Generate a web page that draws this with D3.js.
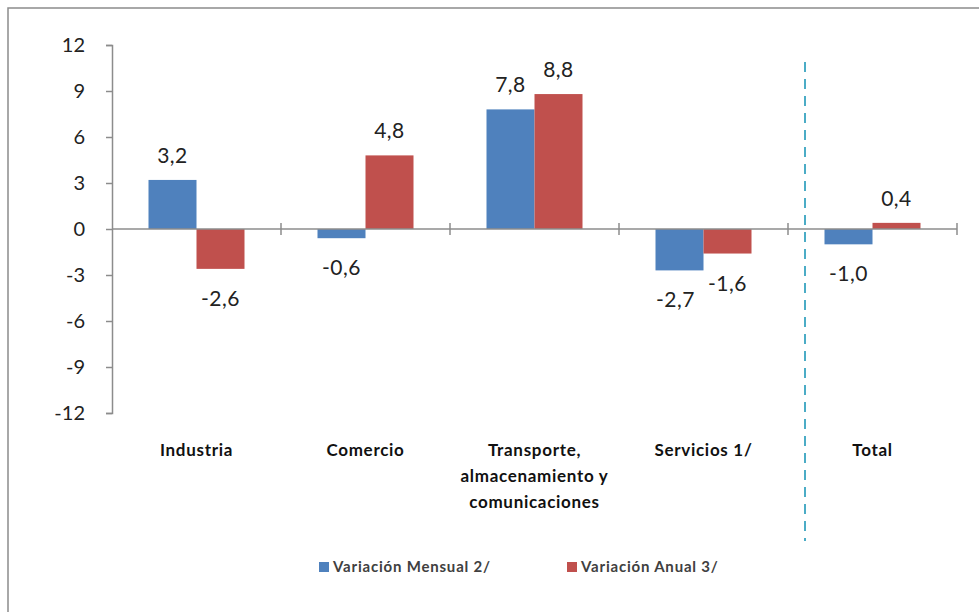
<!DOCTYPE html>
<html><head><meta charset="utf-8">
<script src="https://cdn.jsdelivr.net/npm/d3@7"></script>
<style>body{margin:0;background:#fff}svg{display:block}</style>
</head><body>
<svg id="c" width="979" height="612"></svg>
<script>
const categories = [["Industria"],["Comercio"],["Transporte,","almacenamiento y","comunicaciones"],["Servicios 1/"],["Total"]];
const mensual = [3.2, -0.6, 7.8, -2.7, -1.0];
const anual = [-2.6, 4.8, 8.8, -1.6, 0.4];
const seriesNames = ["Variación Mensual 2/", "Variación Anual 3/"];
const yTicks = [12, 9, 6, 3, 0, -3, -6, -9, -12];

const colors = ["#4f81bd", "#c0504d"];
const font = "Lato, 'Open Sans', sans-serif";
const svg = d3.select("#c");

svg.append("rect").attr("x",8).attr("y",8).attr("width",1000).attr("height",700)
  .attr("fill","none").attr("stroke","#8c8c8c").attr("stroke-width",1.5);

const x0 = 112, x1 = 957;
const y = d3.scaleLinear().domain([-12,12]).range([413,45]);
const idx = categories.map((d,i)=>i);
const x = d3.scaleBand().domain(idx).range([x0,x1]).paddingInner(0).paddingOuter(0);
const barW = 48;
const data = [];
idx.forEach(i=>{ data.push({i, s:0, v:mensual[i]}); data.push({i, s:1, v:anual[i]}); });
const bx = d => x(d.i) + x.bandwidth()/2 - barW + d.s*barW;

// y axis
const yAxis = svg.append("g").attr("transform",`translate(${x0},0)`)
  .call(d3.axisLeft(y).tickValues(yTicks).tickSize(6).tickFormat(d=>d));
yAxis.select(".domain").attr("stroke","#8c8c8c").attr("stroke-width",1.5);
yAxis.selectAll(".tick line").attr("stroke","#8c8c8c").attr("stroke-width",1.5);
yAxis.selectAll(".tick text").attr("x",-27).attr("font-family",font).attr("font-size",20).attr("fill","#222");

// bars
svg.append("g").selectAll("rect").data(data).join("rect")
  .attr("x", bx).attr("width", barW)
  .attr("y", d=>y(Math.max(0,d.v))).attr("height", d=>Math.abs(y(d.v)-y(0)))
  .attr("fill", d=>colors[d.s]);

// x axis
svg.append("line").attr("x1",x0).attr("x2",x1).attr("y1",y(0)).attr("y2",y(0))
  .attr("stroke","#8c8c8c").attr("stroke-width",1.5);
svg.append("g").selectAll("line").data(idx).join("line")
  .attr("x1",i=>x(i)+x.bandwidth()).attr("x2",i=>x(i)+x.bandwidth())
  .attr("y1",y(0)-6).attr("y2",y(0)+6).attr("stroke","#8c8c8c").attr("stroke-width",1.5);

// value labels
svg.append("g").selectAll("text").data(data).join("text")
  .attr("x", d=>bx(d)+barW/2 - (d.i===3 && d.s===0 ? 4 : 0))
  .attr("y", d=> d.v>=0 ? y(d.v)-17 : y(d.v)+37)
  .attr("text-anchor","middle").attr("font-family",font).attr("font-size",21)
  .attr("letter-spacing",0.5).attr("fill","#222")
  .text(d=>d.v.toFixed(1).replace(".",","));

// category labels
const cl = svg.append("g").selectAll("text").data(idx).join("text")
  .attr("x", i=>x(i)+x.bandwidth()/2).attr("y",456)
  .attr("text-anchor","middle").attr("font-family",font).attr("font-size",17)
  .attr("letter-spacing",0.7).attr("font-weight","bold").attr("fill","#111");
cl.each(function(i){
  const t=d3.select(this);
  categories[i].forEach((l,k)=>t.append("tspan").attr("x",x(i)+x.bandwidth()/2).attr("dy",k?26:0).text(l));
});

// separator dashed line
const sepX = x(4) + 17;
svg.append("line").attr("x1",sepX).attr("x2",sepX).attr("y1",62).attr("y2",541)
  .attr("stroke","#4bacc6").attr("stroke-width",2).attr("stroke-dasharray","10,7");

// legend
const leg = [{x:319},{x:567}];
leg.forEach((l,k)=>{
  svg.append("rect").attr("x",l.x).attr("y",562).attr("width",10).attr("height",10).attr("fill",colors[k]);
  svg.append("text").attr("x",l.x+14).attr("y",572).attr("font-family",font).attr("font-size",15)
    .attr("letter-spacing",0.8).attr("font-weight","bold").attr("fill","#404040").text(seriesNames[k]);
});
</script>
</body></html>
